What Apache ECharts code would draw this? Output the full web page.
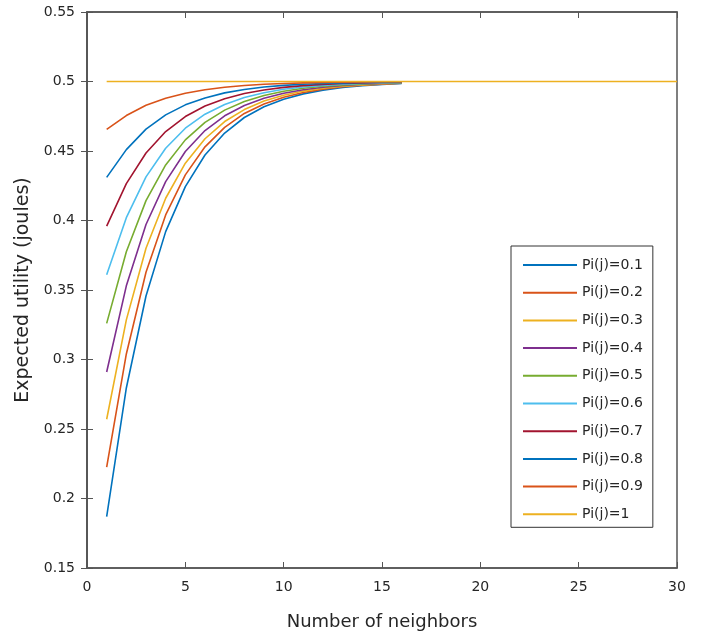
<!DOCTYPE html>
<html>
<head>
<meta charset="utf-8">
<script src="https://cdn.jsdelivr.net/npm/echarts@6/dist/echarts.min.js"></script>
<style>
html,body{margin:0;padding:0;background:#fff;}
#chart{width:713px;height:636px;}
</style>
</head>
<body>
<div id="chart"></div>
<script>
// number of neighbors (x values)
var neighbors = [1,2,3,4,5,6,7,8,9,10,11,12,13,14,15,16];
var neighborsAll = [1,2,3,4,5,6,7,8,9,10,11,12,13,14,15,16,17,18,19,20,21,22,23,24,25,26,27,28,29,30];

// expected utility
var pi01 = [0.187,0.2795,0.3457,0.3920,0.4244,0.4471,0.4629,0.4741,0.4818,0.4873,0.4911,0.4938,0.4957,0.4969,0.4978,0.4986];
var pi02 = [0.2225,0.3040,0.3628,0.4040,0.4328,0.4530,0.4670,0.4770,0.4838,0.4887,0.4921,0.4945,0.4962,0.4973,0.4981,0.4987];
var pi03 = [0.257,0.3285,0.3800,0.4160,0.4412,0.4588,0.4712,0.4798,0.4859,0.4901,0.4931,0.4952,0.4966,0.4976,0.4983,0.4989];
var pi04 = [0.291,0.3530,0.3971,0.4280,0.4496,0.4647,0.4753,0.4827,0.4879,0.4915,0.4941,0.4959,0.4971,0.4980,0.4986,0.4990];
var pi05 = [0.326,0.3775,0.4143,0.4400,0.4580,0.4706,0.4794,0.4856,0.4899,0.4930,0.4951,0.4966,0.4976,0.4983,0.4988,0.4992];
var pi06 = [0.361,0.4020,0.4314,0.4520,0.4664,0.4765,0.4835,0.4885,0.4919,0.4944,0.4960,0.4972,0.4981,0.4986,0.4990,0.4994];
var pi07 = [0.396,0.4265,0.4486,0.4640,0.4748,0.4824,0.4876,0.4914,0.4939,0.4958,0.4970,0.4979,0.4986,0.4990,0.4993,0.4995];
var pi08 = [0.431,0.4510,0.4657,0.4760,0.4832,0.4882,0.4918,0.4942,0.4960,0.4972,0.4980,0.4986,0.4990,0.4993,0.4995,0.4997];
var pi09 = [0.4655,0.4755,0.4829,0.4880,0.4916,0.4941,0.4959,0.4971,0.4980,0.4986,0.4990,0.4993,0.4995,0.4997,0.4998,0.4998];
var pi10 = [0.5,0.5,0.5,0.5,0.5,0.5,0.5,0.5,0.5,0.5,0.5,0.5,0.5,0.5,0.5,0.5,0.5,0.5,0.5,0.5,0.5,0.5,0.5,0.5,0.5,0.5,0.5,0.5,0.5,0.5];

var names = ['Pi(j)=0.1','Pi(j)=0.2','Pi(j)=0.3','Pi(j)=0.4','Pi(j)=0.5','Pi(j)=0.6','Pi(j)=0.7','Pi(j)=0.8','Pi(j)=0.9','Pi(j)=1'];
var colors = ['#0072BD','#D95319','#EDB120','#7E2F8E','#77AC30','#4DBEEE','#A2142F','#0072BD','#D95319','#EDB120'];
var allData = [pi01,pi02,pi03,pi04,pi05,pi06,pi07,pi08,pi09,pi10];

var font = 'DejaVu Sans';
var axisCol = '#555';
var txtCol = '#262626';

var series = [];
for (var i = 0; i < allData.length; i++) {
	var xs = allData[i].length > neighbors.length ? neighborsAll : neighbors;
	var pts = [];
	for (var j = 0; j < allData[i].length; j++) {
		pts.push([xs[j], allData[i][j]]);
	}
	series.push({
		name: names[i],
		type: 'line',
		data: pts,
		symbol: 'none',
		smooth: false,
		lineStyle: {color: colors[i], width: 1.6},
		itemStyle: {color: colors[i]},
		emphasis: {disabled: true}
	});
}

var chart = echarts.init(document.getElementById('chart'));
var option = {
	animation: false,
	backgroundColor: '#fff',
	grid: {
		left: 87, right: 36, top: 12, bottom: 68,
		show: true, borderColor: axisCol, borderWidth: 1.5, backgroundColor: 'transparent'
	},
	legend: {
		orient: 'vertical',
		left: 511, top: 246,
		padding: [11, 10, 5, 12],
		itemWidth: 54, itemHeight: 2, itemGap: 11.7,
		icon: 'rect',
		borderColor: '#333', borderWidth: 1, backgroundColor: '#fff',
		textStyle: {fontFamily: font, fontSize: 14, color: txtCol, lineHeight: 16, padding: [0, 0, 0, 0]},
		data: names
	},
	xAxis: [{
		type: 'value', min: 0, max: 30, interval: 5,
		name: 'Number of neighbors', nameLocation: 'middle', nameGap: 45,
		nameTextStyle: {fontFamily: font, fontSize: 18, color: txtCol},
		axisLine: {show: true, lineStyle: {color: axisCol, width: 1.5}},
		axisTick: {show: true, inside: true, length: 6, lineStyle: {color: axisCol}},
		axisLabel: {fontFamily: font, fontSize: 14, color: txtCol, margin: 12},
		splitLine: {show: false}
	}, {
		type: 'value', min: 0, max: 30, interval: 5, position: 'top',
		axisLine: {show: true, lineStyle: {color: axisCol, width: 1.5}},
		axisTick: {show: true, inside: true, length: 6, lineStyle: {color: axisCol}},
		axisLabel: {show: false}, splitLine: {show: false}
	}],
	yAxis: [{
		type: 'value', min: 0.15, max: 0.55, interval: 0.05,
		name: 'Expected utility (joules)', nameLocation: 'middle', nameGap: 47,
		nameTextStyle: {fontFamily: font, fontSize: 19, color: txtCol},
		axisLine: {show: true, lineStyle: {color: axisCol, width: 1.5}},
		axisTick: {show: true, inside: true, length: 6, lineStyle: {color: axisCol}},
		axisLabel: {fontFamily: font, fontSize: 14, color: txtCol, margin: 12,
			formatter: function(v){ return String(+v.toFixed(2)); }},
		splitLine: {show: false}
	}, {
		type: 'value', min: 0.15, max: 0.55, interval: 0.05, position: 'right',
		axisLine: {show: true, lineStyle: {color: axisCol, width: 1.5}},
		axisTick: {show: true, inside: true, length: 6, lineStyle: {color: axisCol}},
		axisLabel: {show: false}, splitLine: {show: false}
	}],
	series: series
};
chart.setOption(option);
</script>
</body>
</html>
